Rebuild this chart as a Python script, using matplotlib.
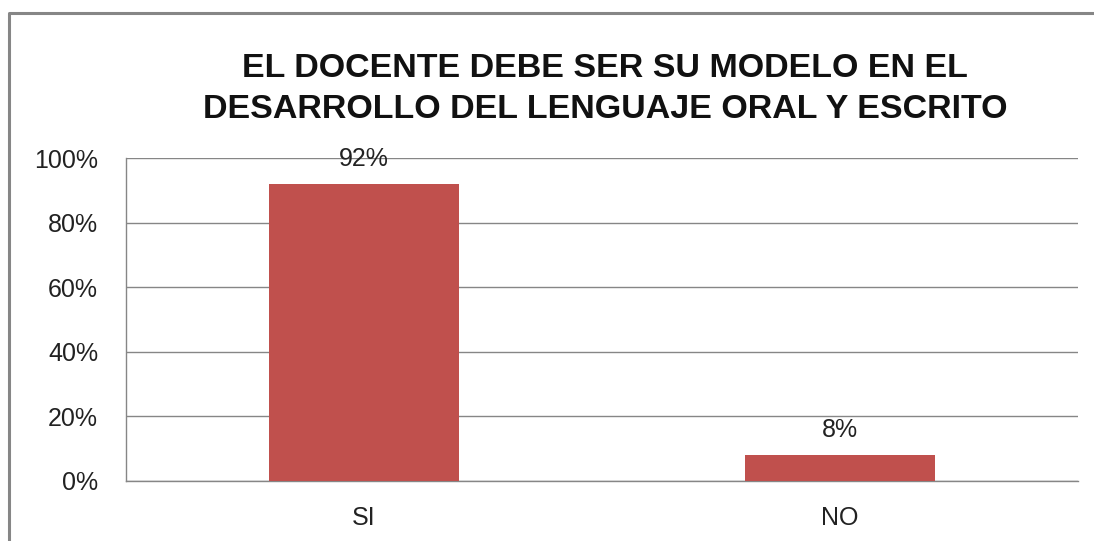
import matplotlib
matplotlib.use('Agg')
import matplotlib.pyplot as plt
from matplotlib.lines import Line2D
from matplotlib.ticker import FuncFormatter

# datos de la encuesta
categorias = ['SI', 'NO']
valores = [0.92, 0.08]
etiquetas = ['92%', '8%']
titulo = 'EL DOCENTE DEBE SER SU MODELO EN EL\nDESARROLLO DEL LENGUAJE ORAL Y ESCRITO'

plt.rcParams['font.family'] = ['Liberation Sans', 'DejaVu Sans']

fig = plt.figure(figsize=(10.94, 5.41), dpi=100)
ax = fig.add_axes([126 / 1094, 1 - 481 / 541, 952 / 1094, 323 / 541])

# marco exterior del grafico (solo izquierda y arriba se ven)
borde_x = [9 / 1094, 9 / 1094, 1.0]
borde_y = [0.0, 1 - 13 / 541, 1 - 13 / 541]
fig.lines.append(Line2D(borde_x, borde_y, transform=fig.transFigure,
                        color='#868686', linewidth=2.2))

x = range(len(categorias))
ax.bar(x, valores, width=0.4, color='#C0504D', zorder=3)
for i, v in enumerate(valores):
    ax.text(i, v + 0.078, etiquetas[i], ha='center', va='center',
            fontsize=18, color='#222222')

ax.set_xlim(-0.5, 1.5)
ax.set_ylim(0, 1)
ax.set_yticks([0, 0.2, 0.4, 0.6, 0.8, 1.0])
ax.yaxis.set_major_formatter(FuncFormatter(lambda v, p: '%d%%' % round(v * 100)))
ax.set_xticks(list(x))
ax.set_xticklabels(categorias)
ax.tick_params(axis='both', length=0, labelsize=18, colors='#222222')
ax.tick_params(axis='y', pad=20)
ax.tick_params(axis='x', pad=18)
ax.grid(axis='y', color='#868686', linewidth=1, zorder=0)
for s in ['top', 'right']:
    ax.spines[s].set_visible(False)
for s in ['left', 'bottom']:
    ax.spines[s].set_color('#868686')
    ax.spines[s].set_linewidth(1)

fig.text(605 / 1094, 1 - 89 / 541, titulo, ha='center', va='center',
         fontsize=24.5, fontweight='bold', linespacing=1.4, color='#111111')

fig.savefig('out.png', dpi=100)
